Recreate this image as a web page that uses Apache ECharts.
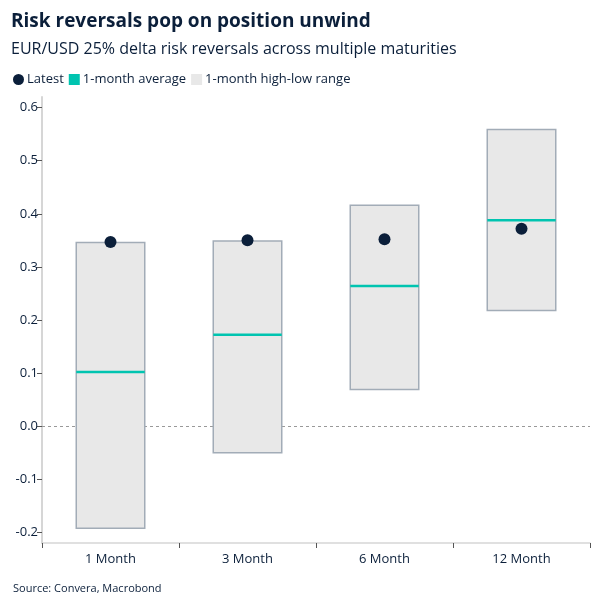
<!DOCTYPE html>
<html><head><meta charset="utf-8">
<script src="https://cdn.jsdelivr.net/npm/echarts@6/dist/echarts.min.js"></script>
<style>html,body{margin:0;padding:0;background:#fff}#c{width:607px;height:606px}</style>
</head><body><div id="c"></div>
<script>
const categories = ['1 Month', '3 Month', '6 Month', '12 Month'];
const latest = [0.347, 0.350, 0.352, 0.372];
const avg = [0.102, 0.172, 0.264, 0.388];
const low = [-0.192, -0.050, 0.069, 0.218];
const high = [0.346, 0.349, 0.416, 0.559];
const yTicks = [-0.2, -0.1, 0.0, 0.1, 0.2, 0.3, 0.4, 0.5, 0.6];

const FONT = 'Open Sans';
const NAVY = '#0b1f3a';
const chart = echarts.init(document.getElementById('c'));

const rangeData = categories.map((c, i) => [i, low[i], high[i]]);
const avgData = categories.map((c, i) => [i, avg[i]]);
const latestData = categories.map((c, i) => [i, latest[i]]);

chart.setOption({
  animation: false,
  textStyle: { fontFamily: FONT },
  title: [
    { text: 'Risk reversals pop on position unwind', left: 6, top: 7,
      textStyle: { fontFamily: FONT, fontSize: 19, fontWeight: 'bold', color: NAVY } },
    { text: 'EUR/USD 25% delta risk reversals across multiple maturities', left: 6, top: 36,
      textStyle: { fontFamily: FONT, fontSize: 16, fontWeight: 'normal', color: NAVY } },
    { text: 'Source: Convera, Macrobond', left: 8, top: 578,
      textStyle: { fontFamily: FONT, fontSize: 11, fontWeight: 'normal', color: NAVY } }
  ],
  legend: {
    left: 8, top: 68, itemWidth: 11, itemHeight: 11, itemGap: 5,
    textStyle: { fontFamily: FONT, fontSize: 13, color: NAVY, padding: [0, 0, 0, -2] },
    data: [
      { name: 'Latest', icon: 'circle' },
      { name: '1-month average', icon: 'rect' },
      { name: '1-month high-low range', icon: 'rect' }
    ]
  },
  grid: { left: 42, right: 17, top: 97, bottom: 63 },
  xAxis: {
    type: 'category', data: categories, boundaryGap: true,
    axisLine: { onZero: false, lineStyle: { color: '#d6d6d6', width: 1.5 } },
    axisTick: { show: true, length: 5, lineStyle: { color: '#555' } },
    axisLabel: { fontFamily: FONT, fontSize: 13, color: NAVY, margin: 10 }
  },
  yAxis: {
    type: 'value', min: -0.22, max: 0.62,
    axisLine: { show: true, lineStyle: { color: '#d6d6d6', width: 2 } },
    axisTick: { show: true, length: 5, customValues: yTicks, lineStyle: { color: '#555' } },
    axisLabel: { fontFamily: FONT, fontSize: 13, color: NAVY, margin: 4, customValues: yTicks,
      formatter: v => v.toFixed(1) },
    splitLine: { show: false }
  },
  series: [
    {
      name: 'zero', type: 'scatter', data: [], z: 1, silent: true,
      markLine: { silent: true, z: 1, symbol: 'none', label: { show: false },
        lineStyle: { color: '#999', type: [3, 3], width: 1 },
        data: [{ yAxis: 0 }] }
    },
    {
      name: '1-month high-low range', type: 'custom', z: 2,
      itemStyle: { color: '#e8e8e8' },
      data: rangeData,
      encode: { x: 0, y: [1, 2] },
      renderItem: function (params, api) {
        const xi = api.value(0);
        const lo = api.coord([xi, api.value(1)]);
        const hi = api.coord([xi, api.value(2)]);
        const w = api.size([1, 0])[0] * 0.5;
        return { type: 'rect',
          shape: { x: lo[0] - w / 2, y: hi[1], width: w, height: lo[1] - hi[1] },
          style: { fill: '#e8e8e8', stroke: '#a2acb7', lineWidth: 1.5 } };
      }
    },
    {
      name: '1-month average', type: 'custom', z: 3,
      itemStyle: { color: '#00c4b0' },
      data: avgData,
      encode: { x: 0, y: 1 },
      renderItem: function (params, api) {
        const xi = api.value(0);
        const p = api.coord([xi, api.value(1)]);
        const w = api.size([1, 0])[0] * 0.5;
        return { type: 'line',
          shape: { x1: p[0] - w / 2, y1: p[1], x2: p[0] + w / 2, y2: p[1] },
          style: { stroke: '#00c4b0', lineWidth: 2.5 } };
      }
    },
    {
      name: 'Latest', type: 'scatter', z: 4, symbol: 'circle', symbolSize: 12,
      itemStyle: { color: NAVY, opacity: 1 },
      data: latestData
    }
  ]
});
</script></body></html>
